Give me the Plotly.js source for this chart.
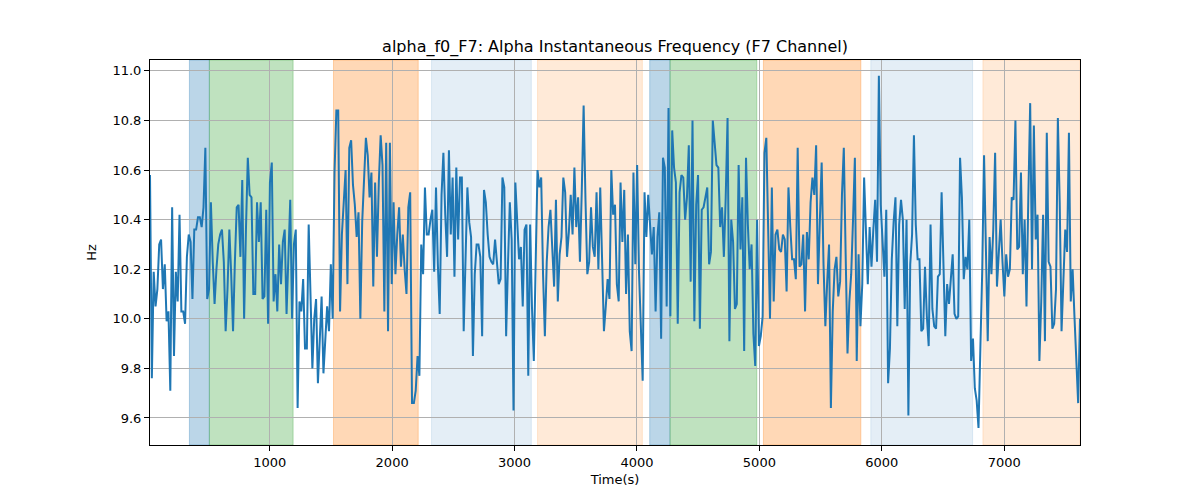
<!DOCTYPE html>
<html>
<head>
<meta charset="utf-8">
<script src="https://cdn.plot.ly/plotly-3.0.1.min.js"></script>
<style>
  body { margin: 0; background: #fff; }
  #chart { width: 1200px; height: 500px; }
</style>
</head>
<body>
<div id="chart"></div>
<script>
// alpha_f0_F7 chart

// Data
var t_start = 22;
var t_end = 7619;

var freq = [
  // 0 - ~1000
  10.58, 9.76, 10.19, 10.05, 10.12, 10.30, 10.32, 10.12, 10.22, 9.99,
  10.03, 9.71, 10.45, 9.85, 10.19, 10.07, 10.42, 10.03, 10.03, 9.98,
  10.25, 10.34, 10.31, 10.08, 10.36, 10.36, 10.41, 10.41, 10.37, 10.45,
  10.69, 10.08, 10.12, 10.47, 10.23, 10.06, 10.20, 10.30, 10.34, 10.36,
  10.23, 9.95, 10.12, 10.36, 10.18, 9.95, 10.23, 10.45, 10.46, 10.25,
  10.56, 10.00, 10.36, 10.65, 10.50, 10.49, 10.10, 10.10, 10.47, 10.31,
  10.47, 10.08,
  // ~1000 - ~1950
  10.09, 10.44, 9.98, 10.55, 10.63, 10.07, 10.18, 10.03, 10.30, 10.14,
  10.31, 10.36, 10.02, 10.23, 10.48, 10.00, 10.30, 10.36, 9.64, 10.07,
  10.03, 10.16, 9.88, 9.88, 10.38, 10.09, 9.80, 10.00, 10.08, 9.74,
  9.91, 10.09, 9.78, 9.93, 10.05, 9.95, 10.22, 10.00, 10.59, 10.84,
  10.84, 10.03, 10.34, 10.47, 10.60, 10.14, 10.69, 10.72, 10.54, 10.46,
  10.33, 10.43, 10.00, 10.39, 10.57, 10.73, 10.66, 10.49, 10.59, 10.13,
  10.55, 10.25, 10.55,
  // ~1950 - ~2900
  10.74, 10.62, 10.03, 10.71, 9.95, 10.71, 10.14, 10.47, 10.18, 10.34,
  10.45, 10.21, 10.34, 10.20, 10.10, 10.45, 10.51, 9.66, 9.66, 9.71,
  9.85, 9.77, 10.30, 10.18, 10.53, 10.34, 10.34, 10.40, 10.44, 10.19,
  10.53, 10.22, 10.02, 10.50, 10.67, 10.42, 10.25, 10.68, 10.34, 10.57,
  10.17, 10.61, 10.32, 10.57, 10.57, 9.95, 10.26, 10.53, 10.39, 10.33,
  9.85, 10.18, 10.30, 10.30, 10.25, 9.93, 10.52, 10.47, 10.34, 10.25,
  10.23, 10.22, 10.32,
  // ~2900 - ~3850
  10.23, 10.14, 10.16, 10.57, 10.53, 9.93, 10.22, 10.47, 10.32, 9.63,
  10.55, 10.38, 10.24, 10.29, 10.05, 10.36, 10.38, 9.77, 10.38, 10.05,
  9.83, 10.22, 10.60, 10.53, 10.57, 10.18, 9.93, 10.23, 10.37, 10.44,
  10.27, 10.13, 10.48, 10.07, 10.26, 10.33, 10.57, 10.51, 10.25, 10.35,
  10.50, 10.34, 10.61, 10.37, 10.49, 10.23, 10.52, 10.86, 10.48, 10.18,
  10.23, 10.45, 10.29, 10.25, 10.51, 10.20, 10.53, 10.25, 9.95, 10.05,
  10.16, 10.08, 10.60, 10.42, 10.46,
  // ~3850 - ~4800
  10.14, 10.07, 10.55, 10.31, 10.52, 10.10, 10.34, 9.95, 9.87, 10.59,
  10.22, 10.62, 10.19, 9.95, 9.75, 10.51, 10.33, 10.50, 10.37, 10.26,
  10.37, 10.03, 10.33, 10.43, 9.92, 10.65, 10.61, 10.05, 10.85, 10.01,
  10.76, 10.61, 10.55, 9.98, 10.51, 10.58, 10.57, 10.40, 10.49, 10.70,
  10.15, 10.80, 9.99, 10.46, 10.58, 9.96, 10.44, 10.45, 10.49, 10.53,
  10.22, 10.27, 10.80, 10.69, 10.62, 10.61, 10.37, 10.45, 10.25, 10.49,
  10.81, 9.91, 10.40, 10.31,
  // ~4800 - ~5750
  10.04, 10.06, 10.62, 10.28, 10.49, 9.87, 10.65, 10.38, 10.20, 10.30,
  9.94, 9.81, 10.40, 9.89, 9.93, 10.01, 10.67, 10.73, 10.35, 10.00,
  10.53, 10.07, 10.34, 10.36, 10.28, 10.27, 10.34, 10.32, 10.11, 10.53,
  10.37, 10.24, 10.24, 10.16, 10.69, 10.21, 10.22, 10.34, 10.03, 10.35,
  10.24, 10.47, 10.57, 10.50, 10.70, 10.14, 10.39, 10.63, 10.22, 9.97,
  10.15, 10.30, 9.64, 10.03, 10.20, 10.25, 10.09, 10.15, 10.50, 10.69,
  10.26, 9.86, 10.07, 10.18,
  // ~5750 - ~6700
  10.40, 10.65, 9.83, 10.26, 9.97, 10.14, 10.57, 10.35, 10.14, 10.37,
  10.21, 10.36, 10.48, 10.23, 10.98, 10.46, 10.28, 10.17, 10.44, 9.74,
  9.88, 10.24, 10.39, 10.49, 9.97, 10.38, 10.48, 10.40, 10.04, 10.40,
  9.61, 10.22, 10.34, 10.74, 10.38, 10.24, 10.24, 9.95, 9.96, 10.21,
  10.01, 9.89, 10.38, 10.04, 9.97, 9.96, 10.17, 10.18, 10.51, 10.25,
  9.93, 10.14, 10.06, 10.16, 10.26, 10.02, 10.00, 10.01, 10.65, 10.49,
  10.16, 10.25, 10.20, 10.40,
  // ~6700 - end
  9.83, 9.92, 9.72, 9.67, 9.56, 9.88, 10.19, 10.66, 10.24, 9.91,
  10.33, 10.18, 10.36, 10.67, 10.13, 10.27, 10.40, 10.23, 10.09, 10.26,
  10.17, 10.20, 10.49, 10.48, 10.80, 10.28, 10.29, 10.59, 10.18, 10.40,
  10.05, 10.49, 10.87, 10.20, 10.78, 10.32, 10.42, 9.83, 10.07, 10.42,
  9.91, 10.75, 10.23, 10.21, 9.96, 9.98, 10.12, 10.81, 10.47, 9.95,
  10.12, 10.36, 10.27, 10.75, 10.07, 10.20, 10.01, 9.85, 9.66, 10.00
];

// shaded segments
var band_starts = [344, 507, 1521, 2322, 3188, 4104, 4270, 5033, 5910, 6826];
var band_ends   = [507, 1191, 2213, 3137, 4044, 4270, 4979, 5829, 6742, 7619];
var band_kinds  = ['blue', 'green', 'orange', 'lightblue', 'lightorange',
                   'blue', 'green', 'orange', 'lightblue', 'lightorange'];

var y_ticks = [9.6, 9.8, 10.0, 10.2, 10.4, 10.6, 10.8, 11.0];
var x_ticks = [1000, 2000, 3000, 4000, 5000, 6000, 7000];


// Colors
function band_color(kind) {
  var mapper = {
    'blue': 'rgba(31,119,180,0.3)',
    'green': 'rgba(44,160,44,0.3)',
    'orange': 'rgba(255,127,14,0.3)',
    'lightblue': 'rgba(31,119,180,0.12)',
    'lightorange': 'rgba(255,127,14,0.16)',
  };
  return mapper[kind];
}


// Drawing
function draw_bands() {
  var shapes = [];
  for (let i = 0; i < band_starts.length; i++) {
    shapes.push({
      type: 'rect',
      xref: 'x',
      yref: 'paper',
      x0: band_starts[i],
      x1: band_ends[i],
      y0: 0,
      y1: 1,
      fillcolor: band_color(band_kinds[i]),
      layer: 'below',
      line: {width: 1, color: band_color(band_kinds[i])},
    });
  }
  return shapes;
}


function sample_times(n) {
  var times = [];
  var dt = (t_end - t_start) / (n - 1);
  for (let i = 0; i < n; i++) {
    times.push(t_start + i * dt);
  }
  return times;
}


var trace1 = {
  x: sample_times(freq.length),
  y: freq,
  mode: 'lines',
  type: 'scatter',
  line: {color: '#1f77b4', width: 2},
  hoverinfo: 'x+y',
};

var font = {family: 'DejaVu Sans, sans-serif', size: 13, color: '#000'};

var layout = {
  width: 1200,
  height: 500,
  autosize: false,
  margin: {l: 150, r: 120, t: 60, b: 55},
  paper_bgcolor: '#fff',
  plot_bgcolor: 'rgba(0,0,0,0)',
  font: font,
  showlegend: false,
  shapes: draw_bands(),
  title: {
    text: 'alpha_f0_F7: Alpha Instantaneous Frequency (F7 Channel)',
    font: {family: 'DejaVu Sans, sans-serif', size: 16, color: '#000'},
    xref: 'paper',
    x: 0.5,
    xanchor: 'center',
    yref: 'container',
    y: 0.908,
    yanchor: 'middle',
  },
  xaxis: {
    range: [t_start, t_end],
    tickmode: 'array',
    tickvals: x_ticks,
    ticktext: x_ticks.map(String),
    ticks: 'outside',
    ticklen: 5,
    tickcolor: '#000',
    showgrid: true,
    gridcolor: '#b0b0b0',
    gridwidth: 1,
    zeroline: false,
    showline: true,
    linecolor: '#000',
    linewidth: 1,
    mirror: true,
    title: {text: 'Time(s)', font: font, standoff: 6},
  },
  yaxis: {
    range: [9.491, 11.044],
    tickmode: 'array',
    tickvals: y_ticks,
    ticktext: y_ticks.map(function (v) { return v.toFixed(1); }),
    ticks: 'outside',
    ticklen: 5,
    tickcolor: '#000',
    showgrid: true,
    gridcolor: '#b0b0b0',
    gridwidth: 1,
    zeroline: false,
    showline: true,
    linecolor: '#000',
    linewidth: 1,
    mirror: true,
    title: {text: 'Hz', font: font, standoff: 12},
  },
};

var config = {
  displayModeBar: false,
  staticPlot: true,
};

Plotly.newPlot('chart', [trace1], layout, config);
</script>
</body>
</html>
